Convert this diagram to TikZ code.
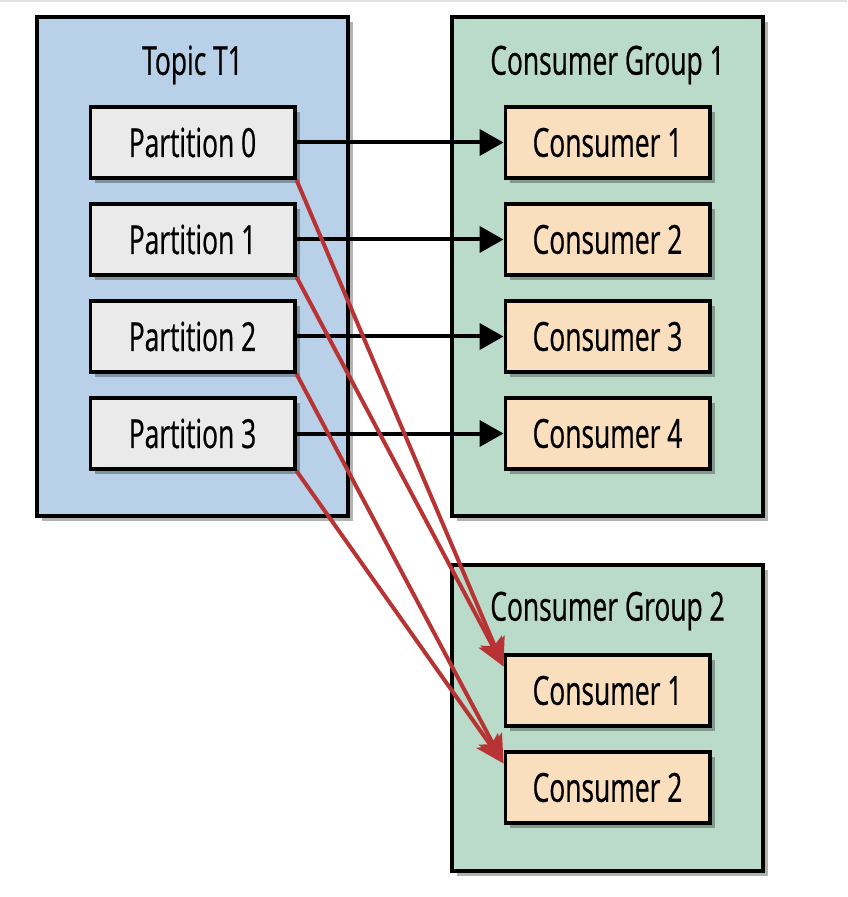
\documentclass[tikz,border=0pt]{standalone}
\usepackage{fontspec}
\setmainfont{Open Sans}[FakeStretch=0.66, FakeBold=0.6]
\usetikzlibrary{positioning,arrows.meta,shadows}

\definecolor{topicblue}{RGB}{184,209,232}
\definecolor{groupgreen}{RGB}{186,219,201}
\definecolor{partgray}{RGB}{234,234,234}
\definecolor{consumerpeach}{RGB}{250,223,190}
\definecolor{arrowred}{RGB}{184,52,52}

\begin{document}
\begin{tikzpicture}[
  node distance=11pt,
  every node/.style={font=\fontsize{20}{22}\selectfont},
  group/.style={draw, line width=2pt, minimum width=155.5pt,
    drop shadow={shadow xshift=2.5pt, shadow yshift=-2.5pt, opacity=0.3, fill=black}},
  box/.style={draw, line width=1.8pt, minimum width=102.2pt, minimum height=35.7pt, inner sep=0pt,
    drop shadow={shadow xshift=2.5pt, shadow yshift=-2.5pt, opacity=0.3, fill=black}},
  part/.style={box, fill=partgray},
  consumer/.style={box, fill=consumerpeach},
  arrow/.style={-{Triangle[length=12pt, width=13pt]}, line width=2pt},
  redarrow/.style={-{Stealth[length=14pt, width=13pt, inset=3pt]}, line width=2pt, color=arrowred},
]
  \useasboundingbox (0,0) rectangle (423.5pt,-448.5pt);
  \draw[black!12, line width=0.8pt] (0,-0.5pt) -- (423.5pt,-0.5pt);

  % topic and its partitions
  \node[group, fill=topicblue, minimum height=249.5pt, anchor=north west] (topic) at (17.5pt,-7.5pt) {};
  \node (topictitle) at ([yshift=-25pt]topic.north) {Topic T1};
  \node[part, below=45pt of topic.north] (p0) {Partition 0};
  \node[part, below=of p0] (p1) {Partition 1};
  \node[part, below=of p1] (p2) {Partition 2};
  \node[part, below=of p2] (p3) {Partition 3};

  % consumer group 1
  \node[group, fill=groupgreen, minimum height=249.5pt, right=50pt of topic] (cg1) {};
  \node (cg1title) at ([yshift=-25pt]cg1.north) {Consumer Group 1};
  \node[consumer, below=45pt of cg1.north] (c1) {Consumer 1};
  \node[consumer, below=of c1] (c2) {Consumer 2};
  \node[consumer, below=of c2] (c3) {Consumer 3};
  \node[consumer, below=of c3] (c4) {Consumer 4};

  % consumer group 2
  \node[group, fill=groupgreen, minimum height=153pt, below=22.5pt of cg1] (cg2) {};
  \node (cg2title) at ([yshift=-24pt]cg2.north) {Consumer Group 2};
  \node[consumer, below=45pt of cg2.north] (g2c1) {Consumer 1};
  \node[consumer, below=of g2c1] (g2c2) {Consumer 2};

  \draw[arrow] (p0) -- (c1);
  \draw[arrow] (p1) -- (c2);
  \draw[arrow] (p2) -- (c3);
  \draw[arrow] (p3) -- (c4);

  \draw[redarrow] (p0.south east) -- (g2c1.167);
  \draw[redarrow] (p1.south east) -- (g2c1.167);
  \draw[redarrow] (p2.south east) -- (g2c2.167);
  \draw[redarrow] (p3.south east) -- (g2c2.167);
\end{tikzpicture}
\end{document}
